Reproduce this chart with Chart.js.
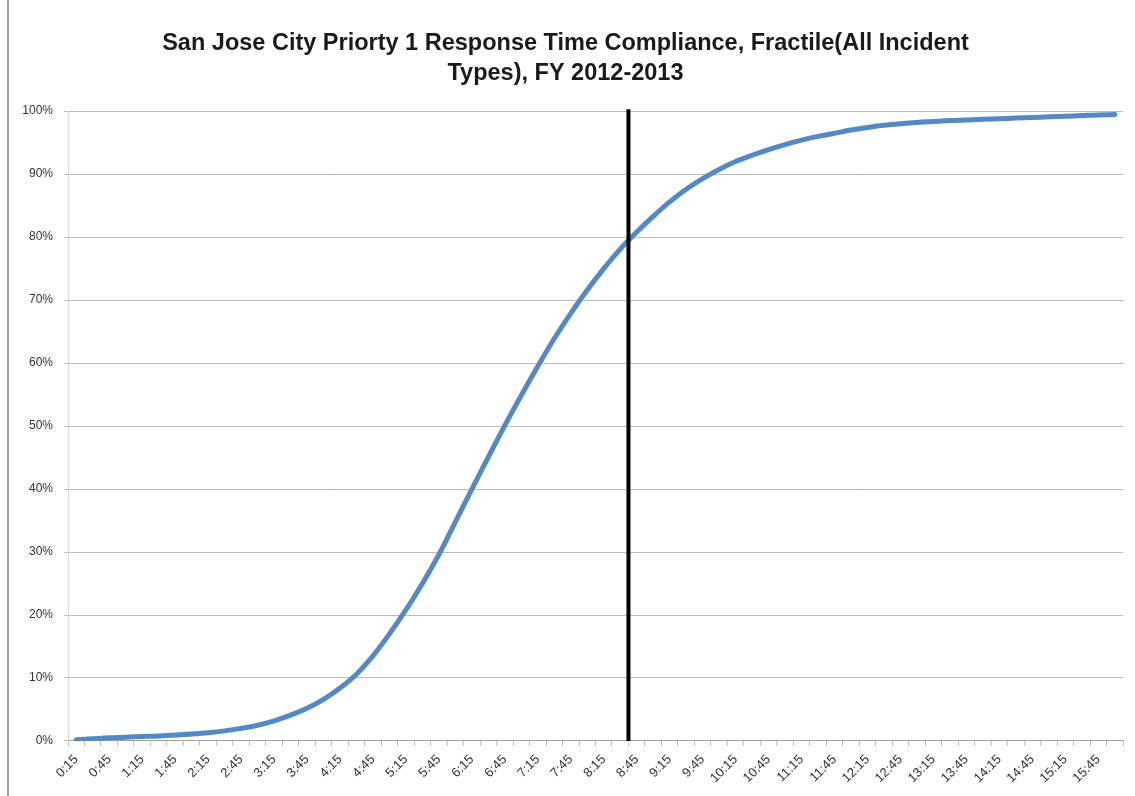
<!DOCTYPE html>
<html>
<head>
<meta charset="utf-8">
<script src="https://cdn.jsdelivr.net/npm/chart.js@4.4.1/dist/chart.umd.min.js"></script>
<style>
  html, body { margin: 0; padding: 0; background: #ffffff; }
  canvas { display: block; }
</style>
</head>
<body>
<canvas id="c" width="1135" height="796"></canvas>
<script>
// Categories: response time (m:ss), 15-second steps
const times = [
  '0:15','0:30','0:45','1:00','1:15','1:30','1:45','2:00',
  '2:15','2:30','2:45','3:00','3:15','3:30','3:45','4:00',
  '4:15','4:30','4:45','5:00','5:15','5:30','5:45','6:00',
  '6:15','6:30','6:45','7:00','7:15','7:30','7:45','8:00',
  '8:15','8:30','8:45','9:00','9:15','9:30','9:45','10:00',
  '10:15','10:30','10:45','11:00','11:15','11:30','11:45','12:00',
  '12:15','12:30','12:45','13:00','13:15','13:30','13:45','14:00',
  '14:15','14:30','14:45','15:00','15:15','15:30','15:45','16:00'
];
// Cumulative compliance (%)
const compliance = [
  0.2, 0.35, 0.5, 0.6, 0.7, 0.8, 0.95, 1.1,
  1.3, 1.6, 2.0, 2.5, 3.2, 4.1, 5.2, 6.6,
  8.4, 10.6, 13.5, 17.0, 20.8, 25.0, 29.6, 34.8,
  40.0, 45.1, 50.1, 54.9, 59.5, 63.9, 67.9, 71.6,
  75.0, 78.1, 80.8, 83.3, 85.6, 87.6, 89.3, 90.75,
  92.0, 93.0, 93.9, 94.7, 95.4, 96.0, 96.5, 97.0,
  97.4, 97.75, 98.0, 98.2, 98.35, 98.5, 98.6, 98.7,
  98.8, 98.9, 99.0, 99.1, 99.2, 99.3, 99.4, 99.45
];
const yTicks = [0, 10, 20, 30, 40, 50, 60, 70, 80, 90, 100];
// Vertical 80% marker sits on the boundary between these two categories
const markerBetween = ['8:30', '8:45'];
const titleLines = ['San Jose City Priorty 1 Response Time Compliance, Fractile(All Incident', 'Types), FY 2012-2013'];

const markerPlugin = {
  id: 'marker',
  beforeDraw(chart) {
    const ctx = chart.ctx;
    ctx.save();
    ctx.fillStyle = '#ffffff';
    ctx.fillRect(0, 0, chart.width, chart.height);
    ctx.fillStyle = '#a6a6a6';
    ctx.fillRect(7, 0, 2, chart.height);
    ctx.restore();
  },
  afterDatasetsDraw(chart) {
    const xs = chart.scales.x, ys = chart.scales.y;
    const a = xs.getPixelForValue(times.indexOf(markerBetween[0]));
    const b = xs.getPixelForValue(times.indexOf(markerBetween[1]));
    const x = (a + b) / 2;
    const ctx = chart.ctx;
    ctx.save();
    ctx.strokeStyle = '#000000';
    ctx.lineWidth = 4;
    ctx.beginPath();
    ctx.moveTo(x, ys.getPixelForValue(100) - 2);
    ctx.lineTo(x, ys.getPixelForValue(0));
    ctx.stroke();
    ctx.restore();
  }
};

new Chart(document.getElementById('c'), {
  type: 'line',
  data: {
    labels: times,
    datasets: [{
      data: compliance,
      borderColor: '#5389C6',
      borderWidth: 5,
      borderCapStyle: 'round',
      borderJoinStyle: 'round',
      pointRadius: 0,
      cubicInterpolationMode: 'monotone',
      fill: false
    }]
  },
  options: {
    responsive: false,
    devicePixelRatio: 1,
    animation: false,
    layout: { padding: { left: 8, right: 12, top: 0, bottom: 4 } },
    plugins: {
      legend: { display: false },
      tooltip: { enabled: false },
      title: {
        display: true,
        text: titleLines,
        color: '#1a1a1a',
        font: { family: 'Liberation Sans', size: 23.5, weight: 'bold', lineHeight: 1.28 },
        padding: { top: 28, bottom: 23 }
      }
    },
    scales: {
      x: {
        type: 'category',
        offset: true,
        grid: {
          offset: true,
          drawOnChartArea: false,
          drawTicks: true,
          tickLength: 5,
          color: '#bfbfbf'
        },
        border: { display: true, color: '#a0a0a0', width: 1 },
        ticks: {
          autoSkip: false,
          minRotation: 45,
          maxRotation: 45,
          padding: 6,
          color: '#333333',
          font: { family: 'Liberation Sans', size: 13 },
          callback: function(v, i) { return i % 2 === 0 ? times[i] : ''; }
        }
      },
      y: {
        min: yTicks[0],
        max: yTicks[yTicks.length - 1],
        afterFit(s) { s.width = 60; },
        afterBuildTicks(s) { s.ticks = yTicks.map(v => ({ value: v })); },
        grid: {
          color: '#bdbdbd',
          lineWidth: 1,
          drawTicks: true,
          tickLength: 4
        },
        border: { display: true, color: '#d9d9d9', width: 1 },
        ticks: {
          padding: 11,
          color: '#333333',
          font: { family: 'Liberation Sans', size: 12 },
          callback: v => v + '%'
        }
      }
    }
  },
  plugins: [markerPlugin]
});
</script>
</body>
</html>
